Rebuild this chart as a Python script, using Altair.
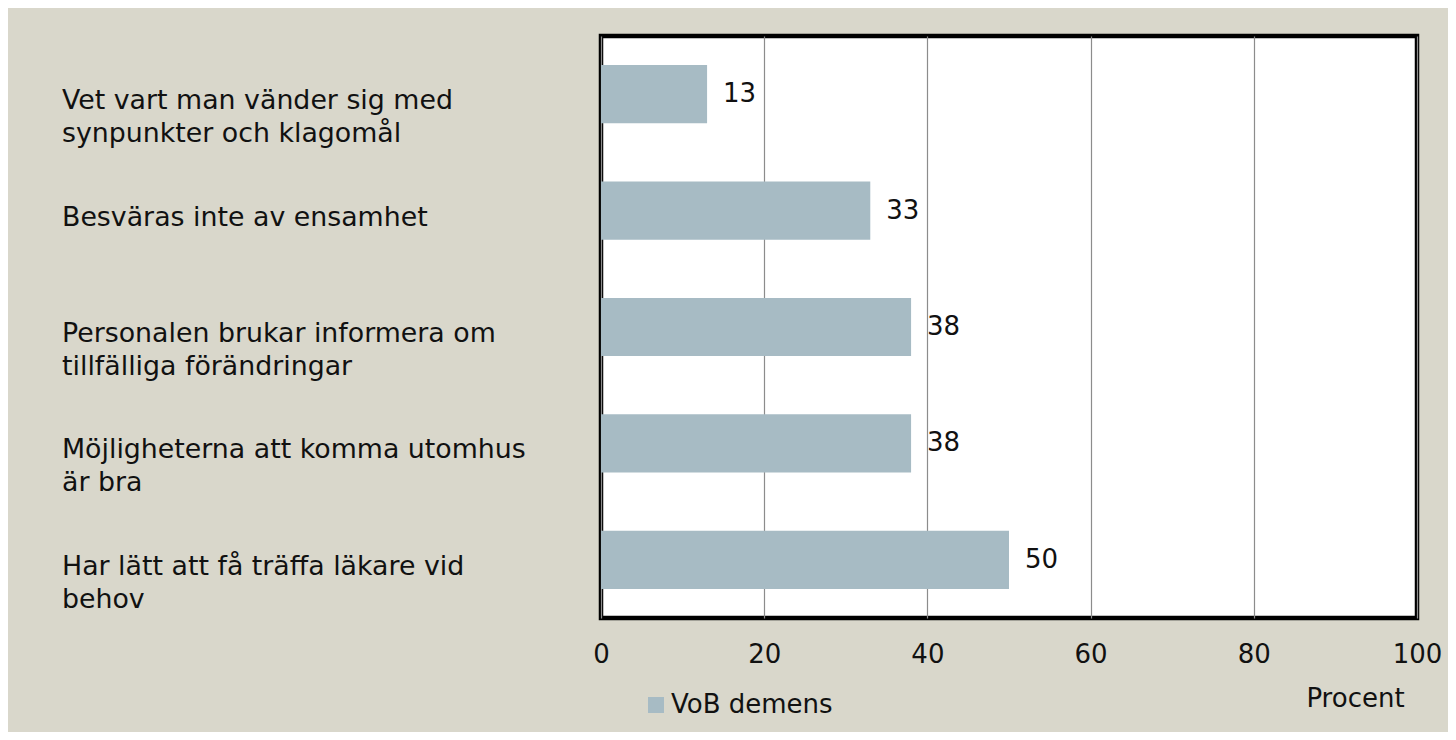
import altair as alt
import pandas as pd

categories = [
    "Vet vart man vänder sig med|synpunkter och klagomål",
    "Besväras inte av ensamhet",
    "Personalen brukar informera om|tillfälliga förändringar",
    "Möjligheterna att komma utomhus|är bra",
    "Har lätt att få träffa läkare vid|behov",
]
values = [13, 33, 38, 38, 50]
series = ["VoB demens"] * len(values)
x_ticks = [0, 20, 40, 60, 80, 100]

df = pd.DataFrame({"cat": categories, "value": values, "series": series})

FONT = "DejaVu Sans"
FS = 26

y_enc = alt.Y("cat:N", sort=categories, axis=None,
              scale=alt.Scale(paddingInner=0.5, paddingOuter=0.25))

bars = alt.Chart(df).mark_bar().encode(
    x=alt.X("value:Q",
            scale=alt.Scale(domain=[0, 100], nice=False),
            axis=alt.Axis(values=x_ticks, grid=True, gridColor="#8C8C8C", gridWidth=1.2,
                          domain=False, ticks=False, tickSize=0, labelPadding=23,
                          labelFont=FONT, labelFontSize=FS, labelColor="#111111",
                          labelFlush=False,
                          title="Procent", titleFont=FONT, titleFontSize=FS,
                          titleFontWeight="normal", titleColor="#111111",
                          titleAnchor="start", titleAlign="center",
                          titleBaseline="alphabetic", titleX=754, titleY=88)),
    y=y_enc,
    color=alt.Color("series:N",
                    scale=alt.Scale(domain=["VoB demens"], range=["#A7BBC4"]),
                    legend=alt.Legend(title=None, orient="none", legendX=42, legendY=656,
                                      symbolType="square", symbolSize=256,
                                      symbolStrokeWidth=0, padding=0, labelLimit=0,
                                      labelFont=FONT, labelFontSize=FS,
                                      labelColor="#111111", labelOffset=2)),
)

value_labels = alt.Chart(df).mark_text(
    align="left", baseline="middle", dx=16, font=FONT, fontSize=FS, color="#111111"
).encode(
    x="value:Q",
    y=y_enc,
    text="value:Q",
)

cat_labels = alt.Chart(df).mark_text(
    align="left", baseline="top", dy=-6, font=FONT, fontSize=26.8, color="#111111",
    lineBreak="|", lineHeight=33,
).encode(
    x=alt.value(-539),
    y=y_enc,
    text="cat:N",
)

chart = alt.layer(bars, value_labels, cat_labels).properties(
    width=816,
    height=582,
    autosize=alt.AutoSizeParams(type="none"),
    padding={"left": 593, "top": 28, "right": 31, "bottom": 114},
    background="#D9D7CB",
).configure_view(
    fill="white", stroke="black", strokeWidth=4.5
)

chart.save("out.html", embed_options={"renderer": "svg", "actions": False})
